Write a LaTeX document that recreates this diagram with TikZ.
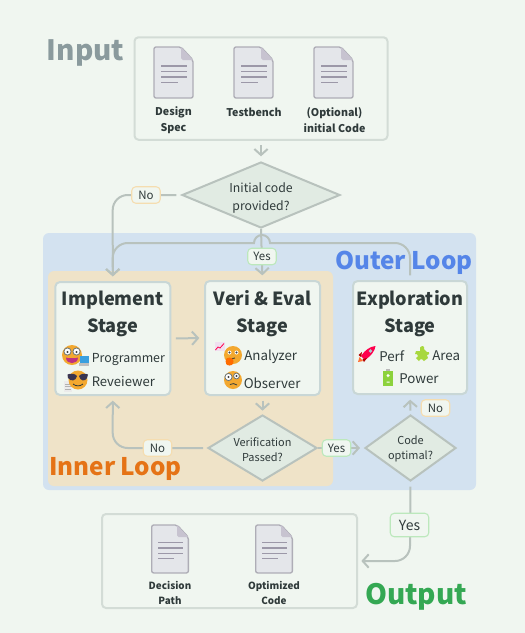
\documentclass[tikz,border=0pt]{standalone}
\usepackage{fontspec}
\setmainfont{Noto Sans CJK SC}
\usetikzlibrary{arrows.meta,shapes.geometric}
\definecolor{bgc}{HTML}{F0F6F0}
\definecolor{bluep}{HTML}{D3E2F0}
\definecolor{orgp}{HTML}{EFE3C8}
\definecolor{flowc}{HTML}{B8C2BD}
\definecolor{boxb}{HTML}{D3DCD6}
\definecolor{stageb}{HTML}{C9D7D6}
\definecolor{txt}{HTML}{2F3A3A}
\definecolor{dfill}{HTML}{E1EBE3}
\definecolor{docf}{HTML}{E4E6EA}
\definecolor{docb}{HTML}{AEADB6}
\definecolor{docd}{HTML}{C7C3D0}
\definecolor{docl}{HTML}{9C98A8}
\definecolor{face}{HTML}{F3A82F}
\definecolor{inputc}{HTML}{8A9A9D}
\definecolor{outerc}{HTML}{5585E8}
\definecolor{innerc}{HTML}{E57316}
\definecolor{outputc}{HTML}{34A853}
\definecolor{nob}{HTML}{F5DDB0}
\definecolor{yesb}{HTML}{BCE8BC}
\definecolor{puzzlec}{HTML}{A8D83E}
\definecolor{battc}{HTML}{8CD23C}
\definecolor{shades}{HTML}{3A3550}
\tikzset{
  flow/.style={draw=flowc,line width=1.5pt,-{Straight Barb[length=4.5pt,width=10pt,line width=1.5pt]}},
  frame/.style={draw=boxb,line width=1.5pt,rounded corners=3pt,inner sep=0pt},
  stagebox/.style={draw=stageb,fill=bgc,line width=1.5pt,rounded corners=3.5pt,inner sep=0pt},
  panel/.style={rounded corners=4.5pt,inner sep=0pt,draw=none},
  decision/.style={diamond,draw=flowc,fill=dfill,line width=1.5pt,inner sep=0pt,text=txt,align=center,
    font=\fontsize{8.2pt}{11.25pt}\selectfont},
  yeslab/.style={draw=#1,fill=bgc,line width=.8pt,rounded corners=3pt,inner sep=0pt,text=txt,
    minimum width=28.5*.75pt,minimum height=16.5*.75pt,font=\fontsize{8.6pt}{10pt}\selectfont},
  doclabel/.style={text=txt,align=center,font=\fontsize{#1}{12pt}\selectfont\bfseries,inner sep=0pt},
  bigtitle/.style={font=\fontsize{#1}{#1}\selectfont\bfseries,inner sep=0pt},
  stagetitle/.style={text=txt,align=center,inner sep=0pt,font=\fontsize{13.6pt}{20.2pt}\selectfont\bfseries},
  role/.style={text=txt,inner sep=0pt,anchor=west,font=\fontsize{10pt}{12pt}\selectfont},
  docicon/.pic={
    \draw[fill=docf,draw=docb,line width=1pt,rounded corners=1.5pt]
      (0,0) -- (27,0) -- (39,13) -- (39,51) -- (0,51) -- cycle;
    \draw[fill=docd,draw=none] (27,0) -- (39,13) -- (29,13) -- (27,11) -- cycle;
    \foreach \yy/\xe in {19/33,24.5/33,30/33,35.5/24}
      \draw[docl,line width=.9pt] (7,\yy) -- (\xe,\yy);
  }
}
\begin{document}
\begin{tikzpicture}[x=.75pt,y=-.75pt]
\useasboundingbox (0,0) rectangle (525,633);
\fill[bgc] (0,0) rectangle (525,633);
% panels
\node[panel,fill=bluep,minimum width=433*.75pt,minimum height=257*.75pt] (outerp) at (259.5,361.5) {};
\node[panel,fill=orgp,minimum width=285*.75pt,minimum height=215*.75pt] (innerp) at (190.5,378.5) {};
% input / output frames
\node[frame,minimum width=253*.75pt,minimum height=102.5*.75pt] (inbox) at (261,88.5) {};
\node[frame,minimum width=255*.75pt,minimum height=94*.75pt] (outbox) at (229.5,561) {};
\path (154,47) pic {docicon};
\path (234,47) pic {docicon};
\path (314,47) pic {docicon};
\path (151.7,525) pic[scale=.94] {docicon};
\path (255.7,525) pic[scale=.94] {docicon};
\node[doclabel=8pt] (d1) at (173.5,120) {Design\\Spec};
\node[doclabel=8pt] (d2) at (254,112) {Testbench};
\node[doclabel=8pt] (d3) at (334.5,120) {(Optional)\\initial Code};
\node[doclabel=7.4pt,font=\fontsize{7.4pt}{11.25pt}\selectfont\bfseries] (o1) at (170,593) {Decision\\Path};
\node[doclabel=7.4pt,font=\fontsize{7.4pt}{11.25pt}\selectfont\bfseries] (o2) at (274,593) {Optimized\\Code};
% stages
\node[stagebox,minimum width=115*.75pt,minimum height=113*.75pt] (impl) at (112.8,338.5) {};
\node[stagebox,minimum width=115*.75pt,minimum height=114*.75pt] (veri) at (262.5,338) {};
\node[stagebox,minimum width=114*.75pt,minimum height=113*.75pt] (expl) at (410,337.5) {};
\node[stagetitle] (t1) at (112.8,313.5) {Implement\\Stage};
\node[stagetitle] (t2) at (262.5,313.5) {Veri \& Eval\\Stage};
\node[stagetitle] (t3) at (410,313.5) {Exploration\\Stage};
% decisions
\node[decision,shape aspect=2.4,minimum width=158*.75pt,minimum height=66*.75pt,font=\fontsize{9.2pt}{13.5pt}\selectfont] (q1) at (261,195) {\rule{0pt}{11.5pt}Initial code\\provided?};
\node[decision,shape aspect=1.65,minimum width=109*.75pt,minimum height=66*.75pt] (q2) at (262.5,448) {\rule{0pt}{8.5pt}Verification\\Passed?};
\node[decision,shape aspect=1.38,minimum width=91*.75pt,minimum height=66*.75pt] (q3) at (410.5,448) {\rule{0pt}{8.5pt}Code\\optimal?};
% connectors
\draw[flow,shorten <=3.5pt,shorten >=3.5pt] (inbox.south) -- (q1.north);
\draw[flow,shorten <=3.5pt,shorten >=3.5pt] (q1.west) -- (127.7,195) arc[start angle=270,end angle=180,radius=15] -- (impl.north);
\draw[flow,shorten >=3.5pt] (q1.south) -- (veri.north);
\draw[flow,shorten <=3.5pt] (expl.north) -- (410,258) arc[start angle=0,end angle=-90,radius=15] -- (270,243)
  arc[start angle=0,end angle=-180,radius=8] -- (127.7,243) arc[start angle=-90,end angle=-180,radius=15] -- ([yshift=3.5pt]impl.north);
\draw[flow,shorten <=3.5pt,shorten >=3.5pt] (impl.east) -- (veri.west);
\draw[flow,shorten <=3.5pt,shorten >=2.5pt] (veri.south) -- (q2.north);
\draw[flow,shorten <=3pt,shorten >=3.5pt] (q2.west) -- (127.7,448) arc[start angle=90,end angle=180,radius=15] -- (impl.south);
\draw[flow,shorten >=3pt] (q2.east) -- (q3.west);
\draw[flow,shorten <=2.5pt,shorten >=3.5pt] (q3.north) -- (expl.south);
\draw[flow,shorten <=3.5pt,shorten >=2.5pt] (q3.south) -- (410,546) arc[start angle=0,end angle=90,radius=15] -- (outbox.east |- 0,561);
% labels on connectors
\node[yeslab=nob] (n1) at (146,195) {No};
\node[yeslab=yesb] (y1) at (262,256.5) {Yes};
\node[yeslab=nob] (n2) at (157.5,448) {No};
\node[yeslab=yesb] (y2) at (336.5,448) {Yes};
\node[yeslab=nob] (n3) at (435.5,408) {No};
\node[yeslab=yesb,minimum width=38.5*.75pt,minimum height=23.5*.75pt,font=\fontsize{10.5pt}{12pt}\selectfont] (y3) at (409.5,525) {Yes};
% titles
\node[bigtitle=21pt,text=inputc] (ti) at (85.5,53) {Input};
\node[bigtitle=18.2pt,text=outerc] (to) at (404,263) {Outer Loop};
\node[bigtitle=18.2pt,text=innerc] (tn) at (115.5,469) {Inner Loop};
\node[bigtitle=21pt,text=outputc] (tu) at (416,597) {Output};
% roles
\node[role,font=\fontsize{9.3pt}{12pt}\selectfont] (r1) at (91.5,359.5) {Programmer};
\node[role,font=\fontsize{9.8pt}{12pt}\selectfont] (r2) at (91.5,382) {Reveiewer};
\node[role] (r3) at (244,357) {Analyzer};
\node[role] (r4) at (243.5,383) {Observer};
\node[role] (r5) at (379,356) {Perf};
\node[role] (r6) at (432,356) {Area};
\node[role] (r7) at (399,379) {Power};
% programmer emoji
\fill[face] (72,355) circle[radius=10];
\draw[txt!70,line width=.6pt,fill=white] (67.5,351.5) circle[radius=3.6] (76.5,351.5) circle[radius=3.6];
\fill[black!75] (67.5,352) circle[radius=1.2] (76.5,352) circle[radius=1.2];
\fill[magenta!75!black] (66,357.5) .. controls (68,358.5) and (76,358.5) .. (78,357.5) .. controls (78,365) and (66,365) .. (66,357.5) -- cycle;
\fill[cyan!75!blue!80] (80,356) rectangle (88.5,363);
\fill[gray!50] (79,363) rectangle (89,366);
% reviewer emoji
\fill[black!8] (64,381) rectangle (72,392);
\draw[gray!60,line width=.4pt] (65,384) -- (71,384) (65,386.5) -- (71,386.5) (65,389) -- (71,389);
\fill[face] (78,380) circle[radius=9.5];
\fill[shades] (67.5,374.5) .. controls (71,373) and (75,373.5) .. (77,376) .. controls (76,381) and (71,382) .. (68,378) -- cycle;
\fill[shades] (88,374.5) .. controls (85,373) and (81,373.5) .. (79,376) .. controls (80,381) and (85,382) .. (87,378) -- cycle;
\draw[txt,line width=.6pt] (73,384) .. controls (76,386.5) and (80,386.5) .. (83,384);
% analyzer emoji
\fill[violet!12] (214.5,342) rectangle (224.5,351);
\draw[red!70!magenta,line width=.6pt] (215.5,350) -- (218,347) -- (220,348) -- (224,343.5);
\fill[face] (233,355) circle[radius=9];
\fill[white] (229.5,352.5) circle[radius=2] (236.5,352.5) circle[radius=2];
\fill[black!75] (229.5,352.5) circle[radius=1.2] (236.5,352.5) circle[radius=1.2];
\draw[txt,line width=.6pt] (230,359) -- (235,358);
\fill[orange!85!red,rounded corners=1pt] (226,358) rectangle (233,365);
\fill[orange!85!red] (229.5,361.5) circle[radius=4];
% observer emoji
\fill[face] (233,380) circle[radius=9];
\draw[txt!70,line width=.6pt,fill=white] (228.5,377) circle[radius=3.6] (236.5,376) circle[radius=2.9];
\fill[black!75] (228.5,377) circle[radius=1.2] (236.5,376) circle[radius=1.2];
\draw[txt,line width=.6pt] (230,384.5) .. controls (232,383) and (235,383.5) .. (237,385);
% rocket
\fill[orange!60!red!80] (358,362) -- (359.5,357) -- (363,361) -- cycle;
\fill[red!70!magenta] (375.5,346) .. controls (370,346.5) and (365,350) .. (361,356) -- (365,360) .. controls (371,356) and (375,351) .. (375.5,346) -- cycle;
\fill[red!70!black] (362,352) -- (358.5,355) -- (361,357) -- cycle (367,358) -- (364,362) -- (362.5,359) -- cycle;
\fill[cyan!30!gray!60] (370.5,351) circle[radius=1.8];
% puzzle
\fill[puzzlec] (416,351) -- (420,351) -- (420,347.5) .. controls (422,345) and (425,346) .. (424,349) -- (427,352) .. controls (430,351) and (430,355) .. (427,355) -- (428,358) -- (424,361) .. controls (422,358) and (419,359) .. (419,361) -- (416,358) .. controls (419,357) and (418,353) .. (415,354) -- cycle;
% battery
\fill[battc] (383,371) rectangle (393,386);
\fill[gray!55] (386,369) rectangle (390,371);
\fill[white] (387.4,374) rectangle (388.6,377) (386.5,375) rectangle (389.5,376) (386.5,381.5) rectangle (389.5,382.5);
\end{tikzpicture}
\end{document}
